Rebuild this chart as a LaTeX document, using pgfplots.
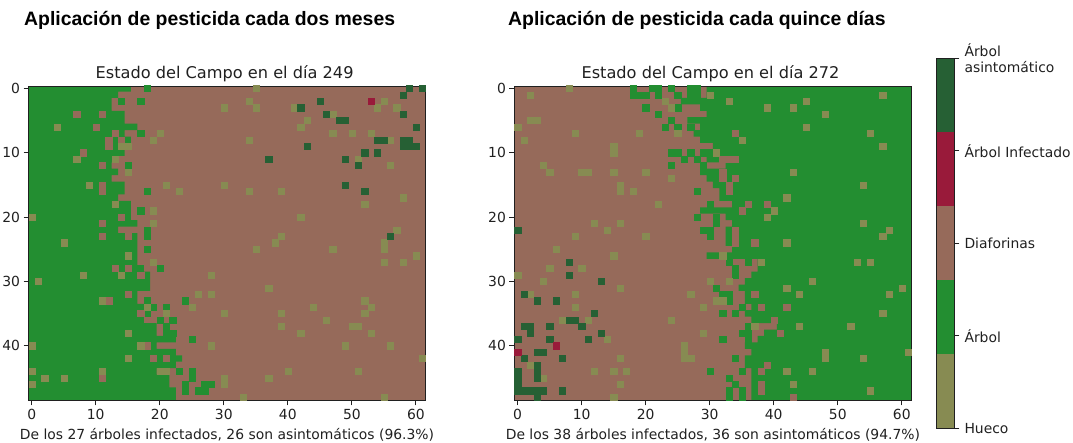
\documentclass[border=0pt]{standalone}
\usepackage{fontspec}
\usepackage{pgfplots}
\pgfplotsset{compat=1.18}
\setmainfont{DejaVu Sans}
\newfontfamily\titlefont{Liberation Sans}
\definecolor{cH}{HTML}{878B52}
\definecolor{cG}{HTML}{238E31}
\definecolor{cB}{HTML}{966A5A}
\definecolor{cR}{HTML}{991A3A}
\definecolor{cD}{HTML}{266034}
\definecolor{txt}{HTML}{202020}
\newcommand{\fs}{\fontsize{13.9bp}{16bp}\selectfont}
\pgfplotsset{
  panel/.style={
    at={(#1,42.7bp)}, anchor=south west,
    width=397bp, height=313.6bp, scale only axis,
    xmin=-0.5, xmax=61.5, ymin=-0.25, ymax=48.5, y dir=reverse,
    xtick={0,10,...,60}, ytick={0,10,...,40},
    tick align=outside, xtick pos=bottom, xticklabel pos=bottom, ytick pos=left, yticklabel pos=left,
    major tick length=5bp,
    every tick/.style={line width=0.8bp, color=txt},
    axis line style={line width=0.9bp, color=txt},
    axis on top,
    axis background/.style={fill=cB},
    ticklabel style={font=\fs, text=txt},
    /pgf/number format/assume math mode=true,
    title style={at={(axis description cs:0.5,1)}, anchor=base, yshift=2.3bp, xshift=-2.4bp, font=\fontsize{16.17bp}{18bp}\selectfont, text=txt},
    xlabel style={at={(axis description cs:0.5,0)}, anchor=base, yshift=-39bp, font=\fs, text=txt},
  },
  base/.style={fill=cG, draw=none, forget plot},
  cell/.style={only marks, mark=square*, mark size=3.1bp, forget plot, mark options={draw=#1, fill=#1, line width=0.2bp}},
}
\begin{document}
\begin{tikzpicture}[x=1bp,y=1bp]
\path[use as bounding box] (0,0) rectangle (1073,443);
\node[anchor=base west, inner sep=0pt, font=\titlefont\bfseries\fontsize{19.4bp}{20bp}\selectfont] at (24,417) {Aplicación de pesticida cada dos meses};
\node[anchor=base west, inner sep=0pt, font=\titlefont\bfseries\fontsize{19.4bp}{20bp}\selectfont] at (508,417) {Aplicación de pesticida cada quince días};

% ---- Panel 1
\begin{axis}[panel=28.5bp, title={Estado del Campo en el día 249}, xlabel={De los 27 árboles infectados, 26 son asintomáticos (96.3\%)}]
\addplot[base] coordinates {(-0.5,-0.5)
(15.5,-0.5)(15.5,0.5)(13.5,0.5)(13.5,1.5)(12.5,1.5)(12.5,2.5)(12.5,3.5)(14.5,3.5)(14.5,4.5)(14.5,5.5)
(16.5,5.5)(16.5,6.5)(14.5,6.5)(14.5,7.5)(15.5,7.5)(15.5,8.5)(13.5,8.5)(13.5,9.5)(14.5,9.5)(14.5,10.5)
(13.5,10.5)(13.5,11.5)(12.5,11.5)(12.5,12.5)(13.5,12.5)(13.5,13.5)(12.5,13.5)(12.5,14.5)(14.5,14.5)(14.5,15.5)
(14.5,16.5)(13.5,16.5)(13.5,17.5)(15.5,17.5)(15.5,18.5)(15.5,19.5)(15.5,20.5)(16.5,20.5)(16.5,21.5)(13.5,21.5)
(13.5,22.5)(16.5,22.5)(16.5,23.5)(16.5,24.5)(16.5,25.5)(16.5,26.5)(16.5,27.5)(17.5,27.5)(17.5,28.5)(18.5,28.5)
(18.5,29.5)(18.5,30.5)(18.5,31.5)(16.5,31.5)(16.5,32.5)(16.5,33.5)(17.5,33.5)(17.5,34.5)(16.5,34.5)(16.5,35.5)
(17.5,35.5)(17.5,36.5)(19.5,36.5)(19.5,37.5)(19.5,38.5)(22.5,38.5)(22.5,39.5)(19.5,39.5)(19.5,40.5)(22.5,40.5)
(22.5,41.5)(23.5,41.5)(23.5,42.5)(22.5,42.5)(22.5,43.5)(19.5,43.5)(19.5,44.5)(21.5,44.5)(21.5,45.5)(21.5,46.5)
(22.5,46.5)(22.5,47.5)(22.5,48.5)(-0.5,48.5)} -- cycle;
\addplot[cell=cG] coordinates {(18,0)(14,2)(17,2)(17,7)(15,12)(18,16)(17,19)(18,22)(18,23)(18,25)(20,28)(18,33)(24,33)(19,34)(21,34)(18,35)(20,36)(22,36)(21,37)(21,38)(22,38)(25,39)(23,44)(25,44)(25,45)(24,46)(27,46)(28,46)(24,47)(26,47)(27,47)};
\addplot[cell=cB] coordinates {(7,4)(11,4)(10,6)(13,7)(12,8)(14,8)(12,9)(8,10)(11,12)(11,15)(11,16)(14,20)(11,21)(11,23)(15,23)(13,28)(15,28)(17,29)(15,32)(12,33)(17,35)(18,40)(19,42)(21,42)(11,45)};
\addplot[cell=cH] coordinates {(30,3)(4,6)(20,7)(19,8)(14,9)(15,9)(7,11)(13,11)(15,13)(9,15)(21,15)(30,15)(23,16)(13,18)(19,19)(0,20)(19,21)(5,24)(15,26)(19,27)(8,29)(14,29)(28,29)(1,30)(26,32)(28,32)(11,33)(18,34)(25,34)(21,35)(30,35)(15,38)(0,40)(17,40)(28,40)(15,42)(0,44)(11,44)(20,44)(21,44)(2,45)(5,45)(30,45)(0,46)(30,46)
(35,0)(34,2)(55,2)(35,3)(41,3)(54,3)(57,3)(47,4)(43,5)(42,6)(47,7)(50,7)(53,7)(34,8)(56,8)(51,11)(56,12)(34,16)(39,16)(58,17)(52,18)(42,20)(57,22)(39,23)(38,24)(55,24)(35,25)(47,25)(55,25)(60,26)(55,27)(58,27)(37,31)(52,33)(44,34)(53,34)(39,35)(52,35)(46,36)(39,37)(50,37)(51,37)(42,38)(53,38)(49,40)(56,40)(61,42)(40,44)(51,44)(37,45)(33,48)(55,48)};
\addplot[cell=cD] coordinates {(59,0)(61,0)(58,1)(45,2)(42,3)(46,4)(58,4)(48,5)(49,5)(60,6)(54,8)(55,8)(58,8)(59,8)(58,9)(59,9)(60,9)(43,9)(52,10)(54,10)(37,11)(49,11)(51,12)(49,15)(52,16)(56,23)};
\addplot[cell=cR] coordinates {(53,2)};
\end{axis}

% ---- Panel 2
\begin{axis}[panel=514.4bp, title={Estado del Campo en el día 272}, xlabel={De los 38 árboles infectados, 36 son asintomáticos (94.7\%)}]
\addplot[base] coordinates {(61.5,-0.5)
(29.5,-0.5)(29.5,0.5)(29.5,1.5)(25.5,1.5)(25.5,2.5)(28.5,2.5)(28.5,3.5)(29.5,3.5)(29.5,4.5)(26.5,4.5)(26.5,5.5)
(28.5,5.5)(28.5,6.5)(27.5,6.5)(27.5,7.5)(28.5,7.5)(28.5,8.5)(30.5,8.5)(30.5,9.5)(31.5,9.5)(31.5,10.5)
(29.5,10.5)(29.5,11.5)(32.5,11.5)(32.5,12.5)(28.5,12.5)(28.5,13.5)(29.5,13.5)(29.5,14.5)(30.5,14.5)(30.5,15.5)
(31.5,15.5)(31.5,16.5)(31.5,17.5)(33.5,17.5)(33.5,18.5)(28.5,18.5)(28.5,19.5)(32.5,19.5)(32.5,20.5)(33.5,20.5)
(33.5,21.5)(32.5,21.5)(32.5,22.5)(32.5,23.5)(32.5,24.5)(33.5,24.5)(33.5,25.5)(29.5,25.5)(29.5,26.5)(37.5,26.5)
(37.5,27.5)(37.5,28.5)(36.5,28.5)(36.5,29.5)(35.5,29.5)(35.5,30.5)(34.5,30.5)(34.5,31.5)(35.5,31.5)(35.5,32.5)
(35.5,33.5)(36.5,33.5)(36.5,34.5)(35.5,34.5)(35.5,35.5)(36.5,35.5)(36.5,36.5)(40.5,36.5)(40.5,37.5)(38.5,37.5)
(38.5,38.5)(37.5,38.5)(37.5,39.5)(35.5,39.5)(35.5,40.5)(36.5,40.5)(36.5,41.5)(35.5,41.5)(35.5,42.5)(35.5,43.5)
(36.5,43.5)(36.5,44.5)(36.5,45.5)(36.5,46.5)(36.5,47.5)(36.5,48.5)(61.5,48.5)} -- cycle;
\addplot[cell=cG] coordinates {(18,0)(21,0)(22,0)(24,0)(27,0)(28,0)(18,1)(19,1)(20,1)(22,1)(25,1)(27,1)(28,1)(20,3)(25,3)(22,4)(24,5)(23,6)(25,6)(27,6)(24,10)(25,10)(27,10)(29,10)(30,10)(26,11)(28,11)(24,12)(29,12)(28,16)(30,18)(28,20)(31,20)(31,21)(29,22)(30,22)(30,23)(33,27)(36,27)(34,28)(34,29)(31,31)(32,32)(33,32)(33,33)(35,34)(32,35)(34,35)(36,37)(35,38)(36,38)(32,39)(36,39)(34,42)(30,44)(35,44)(33,45)(34,46)(33,47)(35,47)(33,48)(35,48)};
\addplot[cell=cB] coordinates {(34,7)(32,11)(33,11)(34,11)(32,13)(32,14)(34,14)(33,15)(33,16)(36,18)(39,18)(35,19)(34,22)(34,23)(34,24)(37,24)(37,32)(38,34)(42,34)(40,36)(41,38)(39,43)(38,44)(38,46)(38,47)(43,48)};
\addplot[cell=cH] coordinates {(8,0)(2,1)(30,1)(57,1)(23,2)(33,2)(45,2)(24,3)(39,3)(43,3)(48,4)(2,5)(3,5)(0,6)(45,6)(9,7)(19,7)(25,7)(55,7)(1,8)(35,8)(15,9)(57,9)(15,10)(31,10)(4,12)(5,13)(10,13)(11,13)(15,13)(20,13)(43,13)(24,14)(16,15)(54,15)(16,16)(18,16)(42,17)(22,18)(40,19)(39,20)(12,21)(16,21)(54,21)(14,22)(58,22)(9,23)(20,23)(57,23)(42,24)(6,25)(15,26)(32,26)(5,28)(10,28)(38,27)(53,27)(55,27)(0,29)(4,30)(30,30)(33,30)(46,30)(16,31)(42,31)(60,31)(2,32)(9,32)(27,32)(44,32)(58,32)(31,33)(32,33)(9,34)(29,34)(57,35)(7,36)(11,36)(24,36)(37,37)(44,37)(52,37)(29,38)(14,39)(26,40)(26,41)(48,41)(61,41)(16,42)(26,42)(27,42)(48,42)(54,42)(2,43)(4,45)(12,44)(15,44)(17,44)(42,44)(46,44)(16,46)(43,46)(55,47)(15,48)};
\addplot[cell=cD] coordinates {(0,22)(8,27)(8,29)(13,30)(1,32)(3,33)(6,33)(12,35)(8,36)(9,36)(1,37)(2,37)(5,37)(10,37)(2,38)(13,38)(0,39)(5,39)(11,39)(3,41)(4,41)(1,42)(7,42)(3,43)(0,44)(3,44)(0,45)(3,45)(0,46)(0,47)(1,47)(2,47)(3,47)(4,47)(7,47)(3,48)};
\addplot[cell=cR] coordinates {(6,40)(0,41)};
\end{axis}

% ---- Colour bar
\begin{axis}[at={(936.3bp,14.7bp)}, anchor=south west, width=18bp, height=370bp, scale only axis,
  xmin=0, xmax=1, ymin=0, ymax=5, xtick=\empty,
  ytick={0,1.25,2.5,3.75,5},
  yticklabels={Hueco,Árbol,Diaforinas,Árbol Infectado,{Árbol\\asintomático}},
  ytick pos=right, yticklabel pos=right, tick align=outside, major tick length=5bp,
  every tick/.style={line width=0.8bp, color=txt},
  axis line style={line width=0.9bp, color=txt}, axis on top,
  yticklabel style={font=\fs, text=txt, align=left, anchor=west, inner sep=0pt, xshift=5bp}]
\addplot[fill=cH, draw=none] coordinates {(0,0)(1,0)(1,1)(0,1)} -- cycle;
\addplot[fill=cG, draw=none] coordinates {(0,1)(1,1)(1,2)(0,2)} -- cycle;
\addplot[fill=cB, draw=none] coordinates {(0,2)(1,2)(1,3)(0,3)} -- cycle;
\addplot[fill=cR, draw=none] coordinates {(0,3)(1,3)(1,4)(0,4)} -- cycle;
\addplot[fill=cD, draw=none] coordinates {(0,4)(1,4)(1,5)(0,5)} -- cycle;
\end{axis}
\end{tikzpicture}
\end{document}
